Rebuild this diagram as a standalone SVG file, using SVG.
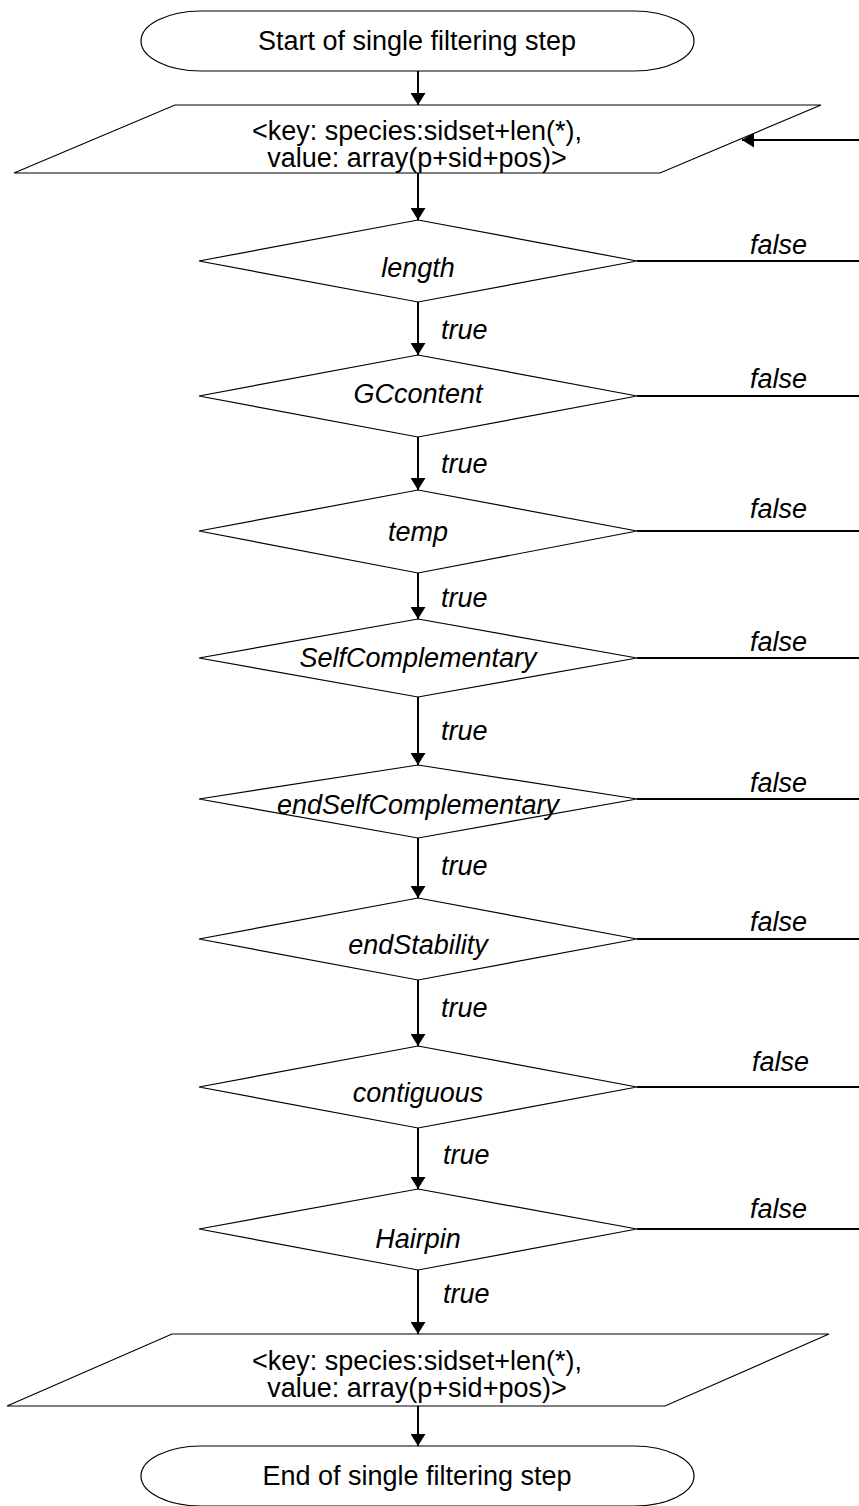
<svg xmlns="http://www.w3.org/2000/svg" width="859" height="1506" viewBox="0 0 859 1506">
  <style>
    .shape { fill: #ffffff; stroke: #000000; stroke-width: 1.2; }
    .conn { fill: none; stroke: #000000; stroke-width: 2; }
    text { font-family: "Liberation Sans", Arial, sans-serif; font-size: 27px; fill: #000000; }
    .label { text-anchor: middle; }
    .cond { text-anchor: middle; font-style: italic; }
    .edge { font-style: italic; }
  </style>
  <defs>
    <marker id="arrow" viewBox="0 0 12 15" refX="12" refY="7.5" markerWidth="12" markerHeight="15" markerUnits="userSpaceOnUse" orient="auto">
      <path d="M0,0 L12,7.5 L0,15 Z" fill="#000000"/>
    </marker>
  </defs>

  <!-- connectors -->
  <g id="connectors">
    <line class="conn" x1="418" y1="71" x2="418" y2="105" marker-end="url(#arrow)"/>
    <line class="conn" x1="418" y1="173" x2="418" y2="220" marker-end="url(#arrow)"/>
    <line class="conn" x1="859" y1="140" x2="742" y2="140" marker-end="url(#arrow)"/>

    <line class="conn" x1="418" y1="302" x2="418" y2="355" marker-end="url(#arrow)"/>
    <line class="conn" x1="418" y1="437" x2="418" y2="490" marker-end="url(#arrow)"/>
    <line class="conn" x1="418" y1="573" x2="418" y2="619" marker-end="url(#arrow)"/>
    <line class="conn" x1="418" y1="697" x2="418" y2="765" marker-end="url(#arrow)"/>
    <line class="conn" x1="418" y1="838" x2="418" y2="898" marker-end="url(#arrow)"/>
    <line class="conn" x1="418" y1="980" x2="418" y2="1046" marker-end="url(#arrow)"/>
    <line class="conn" x1="418" y1="1128" x2="418" y2="1189" marker-end="url(#arrow)"/>
    <line class="conn" x1="418" y1="1270" x2="418" y2="1334" marker-end="url(#arrow)"/>
    <line class="conn" x1="418" y1="1406" x2="418" y2="1446" marker-end="url(#arrow)"/>

    <line class="conn" x1="637" y1="261" x2="859" y2="261"/>
    <line class="conn" x1="637" y1="396" x2="859" y2="396"/>
    <line class="conn" x1="637" y1="531" x2="859" y2="531"/>
    <line class="conn" x1="637" y1="658" x2="859" y2="658"/>
    <line class="conn" x1="637" y1="799" x2="859" y2="799"/>
    <line class="conn" x1="637" y1="939" x2="859" y2="939"/>
    <line class="conn" x1="637" y1="1087" x2="859" y2="1087"/>
    <line class="conn" x1="637" y1="1229" x2="859" y2="1229"/>

    <text class="edge" x="441" y="339">true</text>
    <text class="edge" x="441" y="473">true</text>
    <text class="edge" x="441" y="607">true</text>
    <text class="edge" x="441" y="740">true</text>
    <text class="edge" x="441" y="875">true</text>
    <text class="edge" x="441" y="1017">true</text>
    <text class="edge" x="443" y="1164">true</text>
    <text class="edge" x="443" y="1303">true</text>

    <text class="edge" x="750" y="254">false</text>
    <text class="edge" x="750" y="388">false</text>
    <text class="edge" x="750" y="518">false</text>
    <text class="edge" x="750" y="651">false</text>
    <text class="edge" x="750" y="792">false</text>
    <text class="edge" x="750" y="931">false</text>
    <text class="edge" x="752" y="1071">false</text>
    <text class="edge" x="750" y="1218">false</text>
  </g>

  <g id="start">
    <rect class="shape" x="141" y="11" width="553" height="60" rx="60" ry="30"/>
    <text class="label" x="417" y="50">Start of single filtering step</text>
  </g>

  <g id="input">
    <polygon class="shape" points="175,105 821,105 660,173 14,173"/>
    <text class="label" x="417" y="140">&lt;key: species:sidset+len(*),</text>
    <text class="label" x="417" y="167">value: array(p+sid+pos)&gt;</text>
  </g>

  <g id="length">
    <polygon class="shape" points="418,220 637,261 418,302 199,261"/>
    <text class="cond" x="418" y="277">length</text>
  </g>
  <g id="gccontent">
    <polygon class="shape" points="418,355 637,396 418,437 199,396"/>
    <text class="cond" x="418" y="403">GCcontent</text>
  </g>
  <g id="temp">
    <polygon class="shape" points="418,490 637,531 418,573 199,531"/>
    <text class="cond" x="418" y="541">temp</text>
  </g>
  <g id="selfcomplementary">
    <polygon class="shape" points="418,619 637,658 418,697 199,658"/>
    <text class="cond" x="418" y="667">SelfComplementary</text>
  </g>
  <g id="endselfcomplementary">
    <polygon class="shape" points="418,765 637,799 418,838 199,799"/>
    <text class="cond" x="418" y="814">endSelfComplementary</text>
  </g>
  <g id="endstability">
    <polygon class="shape" points="418,898 637,939 418,980 199,939"/>
    <text class="cond" x="418" y="954">endStability</text>
  </g>
  <g id="contiguous">
    <polygon class="shape" points="418,1046 637,1087 418,1128 199,1087"/>
    <text class="cond" x="418" y="1102">contiguous</text>
  </g>
  <g id="hairpin">
    <polygon class="shape" points="418,1189 637,1229 418,1270 199,1229"/>
    <text class="cond" x="418" y="1248">Hairpin</text>
  </g>

  <g id="output">
    <polygon class="shape" points="172,1334 829,1334 665,1406 7,1406"/>
    <text class="label" x="417" y="1370">&lt;key: species:sidset+len(*),</text>
    <text class="label" x="417" y="1397">value: array(p+sid+pos)&gt;</text>
  </g>

  <g id="end">
    <rect class="shape" x="141" y="1446" width="553" height="60" rx="60" ry="30"/>
    <text class="label" x="417" y="1485">End of single filtering step</text>
  </g>
</svg>
